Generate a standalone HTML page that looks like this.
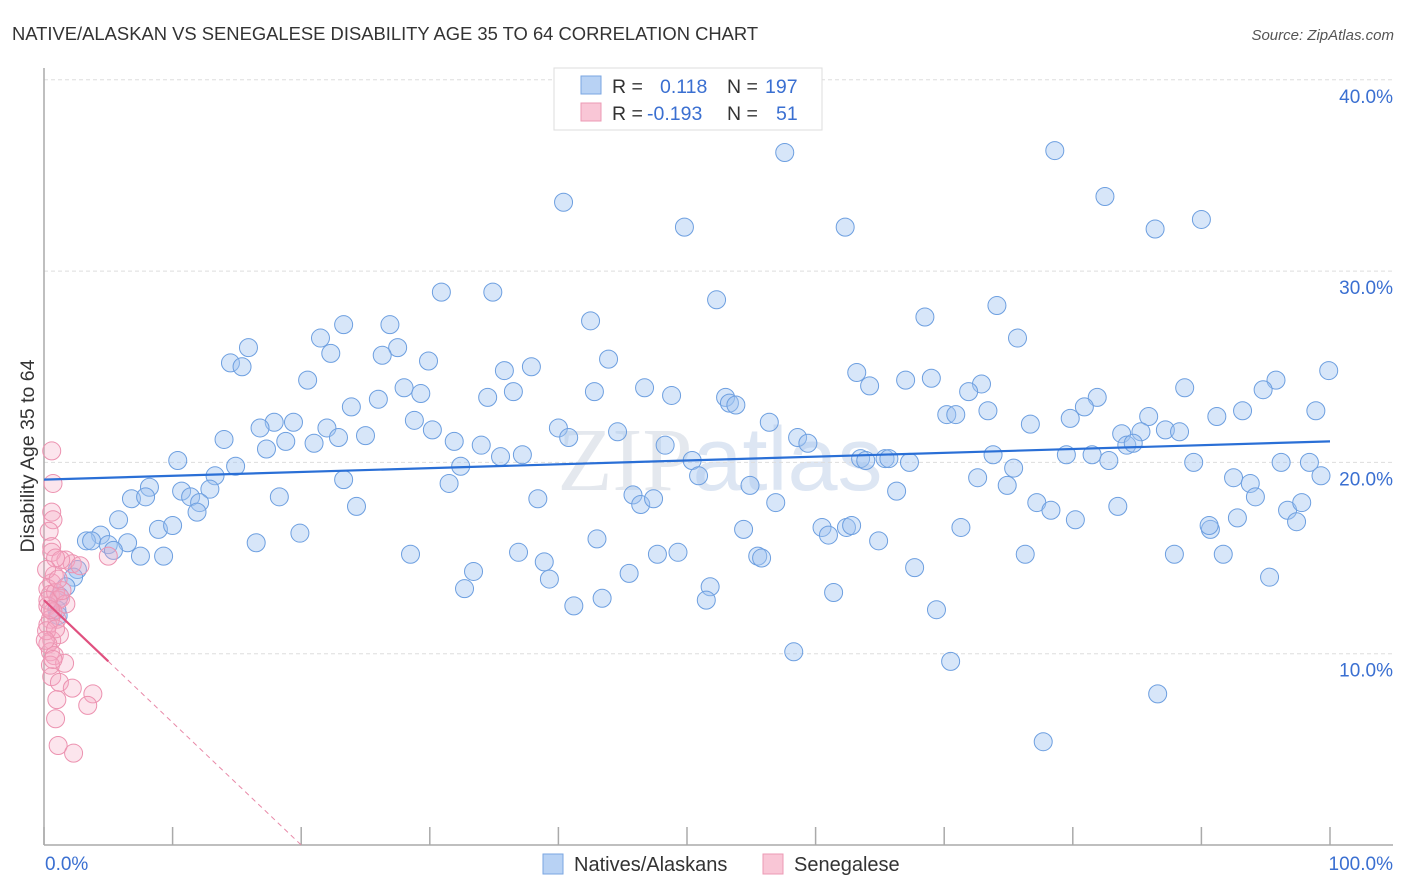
<!DOCTYPE html>
<html><head><meta charset="utf-8"><style>
body{margin:0;background:#fff;font-family:"Liberation Sans",sans-serif;}
svg{display:block}
</style></head><body>
<svg id="chart" width="1406" height="892">
<text x="12" y="40" font-size="18.4" fill="#333">NATIVE/ALASKAN VS SENEGALESE DISABILITY AGE 35 TO 64 CORRELATION CHART</text>
<text x="1394" y="40" font-size="15" fill="#555" font-style="italic" text-anchor="end">Source: ZipAtlas.com</text>
<text x="720" y="490" font-size="90" fill="#e4e8ee" text-anchor="middle" font-family="Liberation Serif">ZIP<tspan font-family="Liberation Sans" fill="#dde6f3">atlas</tspan></text>
<g id="grid"></g>
<g id="axes"></g>
<g id="points"></g>
<g id="trends"></g>
<text transform="translate(34,456) rotate(-90)" font-size="19.5" fill="#333" text-anchor="middle">Disability Age 35 to 64</text>
<g>
<rect x="554" y="68" width="268" height="62" fill="#fff" stroke="#ddd"/>
<rect x="581" y="76" width="20" height="18" fill="#b8d2f4" stroke="#7aa6e2"/>
<rect x="581" y="103" width="20" height="18" fill="#f9c6d6" stroke="#ec9ab4"/>
<text x="612" y="93" font-size="19.5" fill="#333">R = <tspan x="660" fill="#3a6fd1">0.118</tspan><tspan x="727">N =</tspan><tspan x="765" fill="#3a6fd1">197</tspan></text>
<text x="612" y="120" font-size="19.5" fill="#333">R = <tspan x="647" fill="#3a6fd1">-0.193</tspan><tspan x="727">N =</tspan><tspan x="776" fill="#3a6fd1">51</tspan></text>
</g>
<g>
<rect x="543" y="854" width="20" height="20" fill="#b8d2f4" stroke="#7aa6e2"/>
<text x="574" y="871" font-size="20" fill="#333">Natives/Alaskans</text>
<rect x="763" y="854" width="20" height="20" fill="#f9c6d6" stroke="#ec9ab4"/>
<text x="794" y="871" font-size="20" fill="#333">Senegalese</text>
</g>
</svg>
<script>
const blueX=[57.6,78.6,40.4,82.5,90.0,49.8,62.3,86.4,30.9,34.9,52.3,42.5,68.5,74.1,75.7,23.3,21.5,26.9,22.3,27.5,26.3,29.9,15.9,14.5,15.4,43.9,20.5,37.9,35.8,63.2,69.0,67.0,72.9,64.2,71.9,46.7,42.8,28.0,29.3,26.0,23.9,34.5,36.5,48.8,53.0,53.3,53.8,88.7,95.8,99.9,94.8,81.9,80.9,93.2,91.2,98.9,70.2,70.9,73.4,79.8,76.7,56.4,28.8,30.2,17.9,19.4,16.8,22.0,25.0,22.9,40.0,40.8,44.6,58.6,59.4,85.9,85.3,87.2,88.3,83.8,84.2,84.7,14.0,18.8,21.0,17.3,34.0,31.9,32.4,31.5,37.2,35.5,48.3,50.4,50.9,63.5,63.9,65.4,65.7,67.3,73.8,75.4,79.5,81.5,82.8,89.4,96.2,98.4,99.3,10.4,14.9,13.3,23.3,54.9,56.9,72.6,74.9,92.5,93.8,94.2,77.2,78.3,80.2,83.5,90.7,92.8,96.7,97.4,97.8,10.7,11.4,12.9,8.2,6.8,7.9,12.1,11.9,18.3,24.3,38.4,45.8,46.4,47.4,66.3,5.8,8.9,10.0,19.9,54.4,60.5,61.0,62.4,62.8,64.9,71.3,4.4,3.3,3.7,5.0,6.5,5.4,7.5,9.3,16.5,28.5,36.9,43.0,47.7,49.3,55.5,55.8,76.3,87.9,90.6,91.7,38.9,33.4,45.5,67.7,95.3,39.3,51.8,32.7,51.5,43.4,41.2,61.4,69.4,58.3,70.5,86.6,77.7,2.6,2.3,1.7,1.2,1.0,1.1];
const blueY=[36.2,36.3,33.6,33.9,32.7,32.3,32.3,32.2,28.9,28.9,28.5,27.4,27.6,28.2,26.5,27.2,26.5,27.2,25.7,26.0,25.6,25.3,26.0,25.2,25.0,25.4,24.3,25.0,24.8,24.7,24.4,24.3,24.1,24.0,23.7,23.9,23.7,23.9,23.6,23.3,22.9,23.4,23.7,23.5,23.4,23.1,23.0,23.9,24.3,24.8,23.8,23.4,22.9,22.7,22.4,22.7,22.5,22.5,22.7,22.3,22.0,22.1,22.2,21.7,22.1,22.1,21.8,21.8,21.4,21.3,21.8,21.3,21.6,21.3,21.0,22.4,21.6,21.7,21.6,21.5,20.9,21.0,21.2,21.1,21.0,20.7,20.9,21.1,19.8,18.9,20.4,20.3,20.9,20.1,19.3,20.2,20.1,20.2,20.2,20.0,20.4,19.7,20.4,20.4,20.1,20.0,20.0,20.0,19.3,20.1,19.8,19.3,19.1,18.8,17.9,19.2,18.8,19.2,18.9,18.2,17.9,17.5,17.0,17.7,16.5,17.1,17.5,16.9,17.9,18.5,18.2,18.6,18.7,18.1,18.2,17.9,17.4,18.2,17.7,18.1,18.3,17.8,18.1,18.5,17.0,16.5,16.7,16.3,16.5,16.6,16.2,16.6,16.7,15.9,16.6,16.2,15.9,15.9,15.7,15.8,15.4,15.1,15.1,15.8,15.2,15.3,16.0,15.2,15.3,15.1,15.0,15.2,15.2,16.7,15.2,14.8,14.3,14.2,14.5,14.0,13.9,13.5,13.4,12.8,12.9,12.5,13.2,12.3,10.1,9.6,7.9,5.4,14.4,14.0,13.5,13.0,12.3,12.0];
const pinkX=[0.6,0.7,0.6,0.7,0.4,0.6,0.6,1.7,2.2,1.3,0.9,5.0,2.8,0.8,0.6,0.3,0.5,0.9,1.3,1.1,1.7,0.3,0.7,1.0,0.5,0.3,1.2,0.6,0.3,0.5,0.8,1.6,0.6,1.2,2.2,3.8,3.4,1.0,0.9,1.1,2.3,0.3,0.5,0.2,0.9,0.2,1.4,1.1,0.5,0.7,0.1];
const pinkY=[20.6,18.9,17.4,17.0,16.4,15.6,15.3,14.9,14.7,14.9,15.0,15.1,14.6,14.1,13.7,13.4,13.1,13.2,12.9,12.8,12.6,12.5,12.2,11.8,11.8,11.5,11.0,10.7,10.5,10.1,9.9,9.5,8.8,8.5,8.2,7.9,7.3,7.6,6.6,5.2,4.8,12.8,12.3,11.2,11.3,14.4,13.3,13.9,9.4,9.7,10.7];
const yTicks=[10,20,30,40];
const yTickLabels=["10.0%","20.0%","30.0%","40.0%"];
const xTicks=[0,10,20,30,40,50,60,70,80,90,100];
const blueTrend=[[0,19.1],[100,21.1]];
const pinkTrendSolid=[[0,12.8],[5,9.6]];
const pinkTrendDash=[[5,9.6],[20,0]];

const NS="http://www.w3.org/2000/svg";
const X=v=>44+v*12.86, Y=v=>845-v*19.13;
function mk(tag,attrs,parent){const e=document.createElementNS(NS,tag);for(const k in attrs)e.setAttribute(k,attrs[k]);document.getElementById(parent).appendChild(e);return e;}
yTicks.forEach((t,i)=>{
  const g=mk('line',{x1:44,x2:1393,y1:Y(t),y2:Y(t),stroke:'#ddd','stroke-dasharray':'4,3'},'grid');
  
  
  const l=mk('text',{x:1393,y:Y(t)+23,'font-size':19,fill:'#3a6fd1','text-anchor':'end'},'grid');
  l.textContent=yTickLabels[i];
  
  
});
const ax=mk('line',{x1:44,x2:44,y1:68,y2:845,stroke:'#aaa','stroke-width':1.5},'axes');


const bx=mk('line',{x1:44,x2:1393,y1:845,y2:845,stroke:'#aaa','stroke-width':1.5},'axes');


xTicks.forEach(t=>{
  const k=mk('line',{x1:X(t),x2:X(t),y1:827,y2:845,stroke:'#aaa','stroke-width':1.5},'axes');
  
  
});
const x0=mk('text',{x:45,y:870,'font-size':19,fill:'#3a6fd1'},'axes');x0.textContent='0.0%';


const x1=mk('text',{x:1393,y:870,'font-size':19,fill:'#3a6fd1','text-anchor':'end'},'axes');x1.textContent='100.0%';


blueX.forEach((v,i)=>{
  const c=mk('circle',{cx:X(v),cy:Y(blueY[i]),r:9,fill:'rgba(160,196,240,0.42)',stroke:'#6d9fe0','stroke-width':1},'points');
  
  
});
pinkX.forEach((v,i)=>{
  const c=mk('circle',{cx:X(v),cy:Y(pinkY[i]),r:9,fill:'rgba(246,170,196,0.3)',stroke:'#ec92b0','stroke-width':1},'points');
  
  
});
const bt=mk('line',{x1:X(blueTrend[0][0]),y1:Y(blueTrend[0][1]),x2:X(blueTrend[1][0]),y2:Y(blueTrend[1][1]),stroke:'#2a6fd6','stroke-width':2.2},'trends');


const ps=mk('line',{x1:X(pinkTrendSolid[0][0]),y1:Y(pinkTrendSolid[0][1]),x2:X(pinkTrendSolid[1][0]),y2:Y(pinkTrendSolid[1][1]),stroke:'#e0507f','stroke-width':2.2},'trends');


const pd=mk('line',{x1:X(pinkTrendDash[0][0]),y1:Y(pinkTrendDash[0][1]),x2:X(pinkTrendDash[1][0]),y2:Y(pinkTrendDash[1][1]),stroke:'#e889a8','stroke-width':1,'stroke-dasharray':'5,4'},'trends');


</script>
</body></html>
